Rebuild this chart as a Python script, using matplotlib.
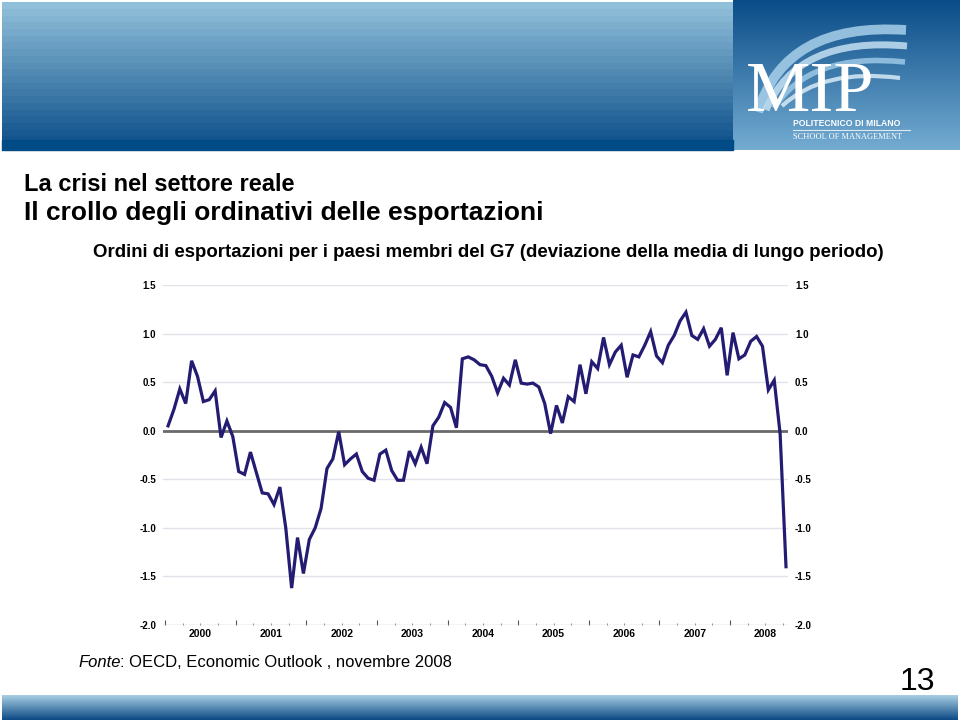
import numpy as np
import matplotlib
matplotlib.use("Agg")
import matplotlib.pyplot as plt
from matplotlib.path import Path
from matplotlib.patches import PathPatch
from matplotlib.colors import LinearSegmentedColormap

plt.rcParams['font.family'] = ['Liberation Sans', 'DejaVu Sans']

# ---------------- data ----------------
start_year = 2000
export_orders = [
    0.05, 0.22, 0.43, 0.28, 0.72, 0.56, 0.30, 0.32, 0.41, -0.07, 0.10, -0.06,
    -0.42, -0.45, -0.22, -0.43, -0.64, -0.65, -0.76, -0.58, -1.00, -1.62, -1.10, -1.47,
    -1.12, -1.00, -0.80, -0.39, -0.29, -0.01, -0.35, -0.29, -0.24, -0.42, -0.49, -0.51,
    -0.24, -0.20, -0.41, -0.51, -0.51, -0.21, -0.34, -0.17, -0.34, 0.05, 0.14, 0.29,
    0.24, 0.03, 0.74, 0.76, 0.73, 0.68, 0.67, 0.56, 0.39, 0.54, 0.47, 0.73,
    0.49, 0.48, 0.49, 0.45, 0.28, -0.03, 0.26, 0.08, 0.35, 0.30, 0.68, 0.38,
    0.71, 0.64, 0.96, 0.68, 0.81, 0.88, 0.55, 0.78, 0.76, 0.88, 1.02, 0.77,
    0.70, 0.88, 0.98, 1.13, 1.22, 0.98, 0.94, 1.05, 0.87, 0.94, 1.06, 0.57,
    1.01, 0.74, 0.78, 0.92, 0.97, 0.87, 0.42, 0.52, -0.03, -1.40,
]
years = [2000, 2001, 2002, 2003, 2004, 2005, 2006, 2007, 2008]
y_ticks = [-2.0, -1.5, -1.0, -0.5, 0.0, 0.5, 1.0, 1.5]
y_tick_labels = ["-2.0", "-1.5", "-1.0", "-0.5", "0.0", "0.5", "1.0", "1.5"]

title1 = "La crisi nel settore reale"
title2 = "Il crollo degli ordinativi delle esportazioni"
subtitle = "Ordini di esportazioni per i paesi membri del G7 (deviazione della media di lungo periodo)"
source_label = "Fonte"
source_text = ": OECD, Economic Outlook , novembre 2008"
page_number = "13"

# ---------------- figure ----------------
W, H = 960, 720
fig = plt.figure(figsize=(9.6, 7.2), dpi=100)
fig.patch.set_facecolor("white")

bg = fig.add_axes([0, 0, 1, 1], zorder=0)
bg.set_xlim(0, W)
bg.set_ylim(H, 0)
bg.axis("off")


def vgrad(ax, x0, x1, y0, y1, c_top, c_bot, steps=None):
    g = np.linspace(0, 1, 256)
    if steps:
        g = np.floor(g * steps) / (steps - 1)
        g = np.clip(g, 0, 1)
    cmap = LinearSegmentedColormap.from_list("g", [c_top, c_bot])
    ax.imshow(g[:, None], aspect="auto", cmap=cmap, extent=(x0, x1, y1, y0),
              interpolation="nearest", zorder=1)


# header banner
vgrad(bg, 2, 733, 2, 150, "#90bfd9", "#0c4f8a", steps=22)
bg.fill_between([2, 733], 140, 150, color="#004a86", zorder=2)
# logo box
vgrad(bg, 733, 960, 0, 150, "#0a4c88", "#74acd2")

# swoosh of the logo
for (sx, sy), (cx, cy), (ex, ey), lw, col in [
    ((758, 112), (785, 22), (906, 30), 7, "#a8d0ea"),
    ((766, 110), (797, 36), (907, 46), 5, "#c4e0f2"),
    ((774, 108), (810, 52), (905, 62), 4, "#9cc8e6"),
    ((782, 106), (823, 68), (900, 78), 3, "#d8ecf8"),
]:
    p = Path([(sx, sy), (cx, cy), (ex, ey)], [Path.MOVETO, Path.CURVE3, Path.CURVE3])
    bg.add_patch(PathPatch(p, fc="none", ec=col, lw=lw, alpha=0.85, zorder=3))

bg.text(746, 111, "MIP", color="white", fontsize=52, family="Liberation Serif",
        ha="left", va="baseline", zorder=4)
bg.text(793, 126, "POLITECNICO DI MILANO", color="white", fontsize=6.2,
        fontweight="bold", ha="left", va="baseline", zorder=4)
bg.plot([793, 910], [130, 130], color="#dce8f2", lw=0.8, zorder=4)
bg.text(793, 139, "SCHOOL OF MANAGEMENT", color="white", fontsize=6,
        family="Liberation Serif", ha="left", va="baseline", zorder=4)

# footer bar
vgrad(bg, 2, 958, 695, 720, "#a9cfe4", "#0b4984")

# titles
bg.text(24, 191, title1, fontsize=17, fontweight="bold", color="black",
        ha="left", va="baseline")
bg.text(24, 220, title2, fontsize=19, fontweight="bold", color="black",
        ha="left", va="baseline")
bg.text(93, 257, subtitle, fontsize=13.4, fontweight="bold", color="black",
        ha="left", va="baseline")

# footer texts
t = bg.text(78, 667, source_label, fontsize=12, style="italic", ha="left", va="baseline")
fig.canvas.draw()
bb = t.get_window_extent()
bg.text(bb.x1, 667, source_text, fontsize=12, ha="left", va="baseline")
bg.text(935, 690, page_number, fontsize=23, ha="right", va="baseline")

# ---------------- chart ----------------
left_px, right_px, top_px, bot_px = 163, 788, 285, 625
ax = fig.add_axes([left_px / W, 1 - bot_px / H, (right_px - left_px) / W,
                   (bot_px - top_px) / H], zorder=2)
ax.set_facecolor("none")

xvals = start_year + (np.arange(len(export_orders)) + 0.5) / 12.0

for yt in y_ticks:
    if yt == 0.0:
        ax.axhline(yt, color="#6a6a6a", lw=2.0, zorder=2)
    elif yt == -2.0:
        ax.axhline(yt, color="#c8c8d0", lw=1.0, zorder=2)
    else:
        ax.axhline(yt, color="#e2e2ea", lw=1.0, zorder=1)

ax.plot(xvals, export_orders, color="#231c72", lw=2.3, solid_joinstyle="miter",
        zorder=3, clip_on=False)

for s in ax.spines.values():
    s.set_visible(False)

ax.set_yticks(y_ticks)
ax.set_yticklabels(y_tick_labels)
ax.tick_params(axis="y", length=0, labelsize=7, pad=5, labelright=True,
               labelleft=True)
for lab in ax.get_yticklabels():
    lab.set_fontweight("bold")

ax.set_xticks(years)
ax.set_xticks([y + q / 4 for y in years for q in (1, 2, 3)], minor=True)
ax.tick_params(axis="x", which="major", direction="in", length=3.5, width=0.8,
               color="#555555", labelbottom=False)
ax.tick_params(axis="x", which="minor", direction="in", length=1.8, width=0.6,
               color="#777777", labelbottom=False)
ax.set_xlim(1999.97, 2008.82)
ax.set_ylim(-2.0, 1.5)
for yr in years:
    ax.text(yr + 0.5, -0.012, str(yr), transform=ax.get_xaxis_transform(),
            ha="center", va="top", fontsize=7.5, fontweight="bold")

fig.savefig("out.png", dpi=100, facecolor="white")
